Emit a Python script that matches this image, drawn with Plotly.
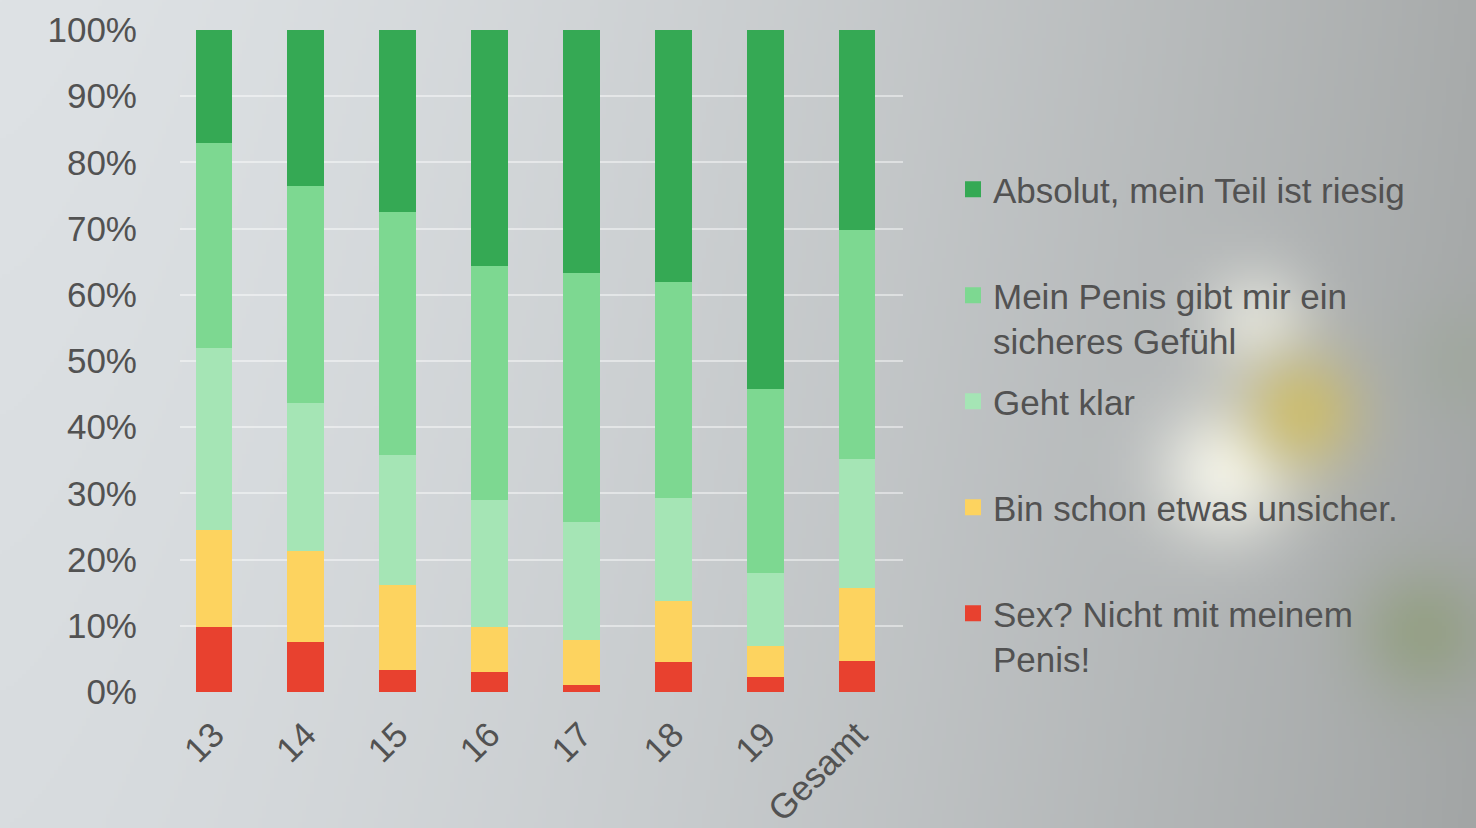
import base64, struct, zlib
import numpy as np
import plotly.graph_objects as go

# ---------------- data ----------------
categories = ["13", "14", "15", "16", "17", "18", "19", "Gesamt"]
series_names = [
    "Sex? Nicht mit meinem<br>Penis!",
    "Bin schon etwas unsicher.",
    "Geht klar",
    "Mein Penis gibt mir ein<br>sicheres Gefühl",
    "Absolut, mein Teil ist riesig",
]
red_vals = [9.8, 7.6, 3.3, 3.0, 1.1, 4.5, 2.3, 4.7]
yellow_vals = [14.7, 13.7, 12.9, 6.8, 6.8, 9.2, 4.6, 11.0]
light_vals = [27.5, 22.4, 19.6, 19.2, 17.8, 15.6, 11.1, 19.5]
mid_vals = [31.0, 32.7, 36.7, 35.4, 37.6, 32.6, 27.8, 34.6]
dark_vals = [17.0, 23.6, 27.5, 35.6, 36.7, 38.1, 54.2, 30.2]
y_tickvals = [0, 10, 20, 30, 40, 50, 60, 70, 80, 90, 100]
y_ticktext = ["0%", "10%", "20%", "30%", "40%", "50%", "60%", "70%", "80%", "90%", "100%"]

series_values = [red_vals, yellow_vals, light_vals, mid_vals, dark_vals]
colors = ["#e8412f", "#fdd35f", "#a5e5b5", "#7dd891", "#35a954"]

# ---------------- background image (decorative) ----------------
W, H = 369, 207
sx, sy = 1476 / W, 828 / H
xx, yy = np.meshgrid(np.arange(W) * sx, np.arange(H) * sy)
t = xx / 1476.0
left = np.array([222, 226, 229], float)
right = np.array([168, 171, 171], float)
img = left[None, None, :] * (1 - t[..., None] ** 1.5) + right[None, None, :] * (t[..., None] ** 1.5)
img += (yy / 828.0)[..., None] * -6


def blob(cx, cy, r, col, a):
    g = np.exp(-(((xx - cx) ** 2 + (yy - cy) ** 2) / (2 * r * r)))[..., None] * a
    return g, np.array(col, float)[None, None, :]


for cx, cy, r, col, a in [
    (1225, 470, 50, (250, 250, 240), 0.85),
    (1255, 320, 40, (245, 245, 235), 0.6),
    (1300, 410, 42, (210, 190, 90), 0.7),
    (1420, 630, 45, (130, 150, 95), 0.45),
    (1460, 360, 40, (150, 165, 140), 0.3),
]:
    g, c = blob(cx, cy, r, col, a)
    img = img * (1 - g) + c * g
img = np.clip(img, 0, 255).astype(np.uint8)


def to_png(arr):
    h, w, _ = arr.shape
    raw = b"".join(b"\x00" + arr[i].tobytes() for i in range(h))

    def chunk(tag, data):
        return struct.pack(">I", len(data)) + tag + data + struct.pack(">I", zlib.crc32(tag + data) & 0xFFFFFFFF)

    return (b"\x89PNG\r\n\x1a\n" + chunk(b"IHDR", struct.pack(">IIBBBBB", w, h, 8, 2, 0, 0, 0))
            + chunk(b"IDAT", zlib.compress(raw, 9)) + chunk(b"IEND", b""))


bg_uri = "data:image/png;base64," + base64.b64encode(to_png(img)).decode()

# ---------------- figure ----------------
FONT = "Liberation Sans, Arial, sans-serif"
TXT = "#525252"
FS = 35
ML, MR, MT, MB = 180, 573, 30, 136
PW, PH = 1476 - ML - MR, 828 - MT - MB

fig = go.Figure()
for name, vals, col in zip(series_names, series_values, colors):
    fig.add_trace(go.Bar(x=categories, y=vals, name=name.replace("<br>", " "),
                         marker=dict(color=col, line=dict(width=0)), showlegend=False))

# legend entries (top to bottom)
for i, (name, col) in enumerate(reversed(list(zip(series_names, colors)))):
    label = name if "<br>" in name else name + "<br> "
    fig.add_trace(go.Scatter(x=[None], y=[None], mode="markers", name=label,
                             legendgroup="g%d" % i,
                             marker=dict(symbol="square", size=16, color=col)))

fig.update_layout(
    width=1476, height=828,
    barmode="stack", bargap=0.6,
    margin=dict(l=ML, r=MR, t=MT, b=MB, autoexpand=False),
    paper_bgcolor="#c8cbcd", plot_bgcolor="rgba(0,0,0,0)",
    font=dict(family=FONT, size=FS, color=TXT),
    showlegend=True,
    legend=dict(xref="container", yref="container", x=953 / 1476, y=1 - 160 / 828,
                xanchor="left", yanchor="top", bgcolor="rgba(0,0,0,0)",
                traceorder="grouped", tracegroupgap=12, valign="top", maxheight=700,
                font=dict(family=FONT, size=FS, color=TXT)),
    images=[dict(source=bg_uri, xref="paper", yref="paper", x=-ML / PW, y=1 + MT / PH,
                 sizex=1476 / PW, sizey=828 / PH, xanchor="left", yanchor="top",
                 sizing="stretch", layer="below")],
    xaxis=dict(range=[-0.37, 7.5], tickangle=-45, showgrid=False, zeroline=False,
               showline=False, ticks="", automargin=False, ticklabelstandoff=14,
               tickfont=dict(family=FONT, size=FS, color=TXT)),
    yaxis=dict(range=[0, 100], tickvals=y_tickvals, ticktext=y_ticktext, showgrid=True,
               gridcolor="rgba(255,255,255,0.45)", gridwidth=2, zeroline=False,
               showline=False, ticks="", automargin=False, ticklabelstandoff=42,
               tickfont=dict(family=FONT, size=FS, color=TXT)),
)

fig.write_html("out.html", config={"displayModeBar": False},
               post_script="document.body.style.margin='0';document.body.style.overflow='hidden';")
